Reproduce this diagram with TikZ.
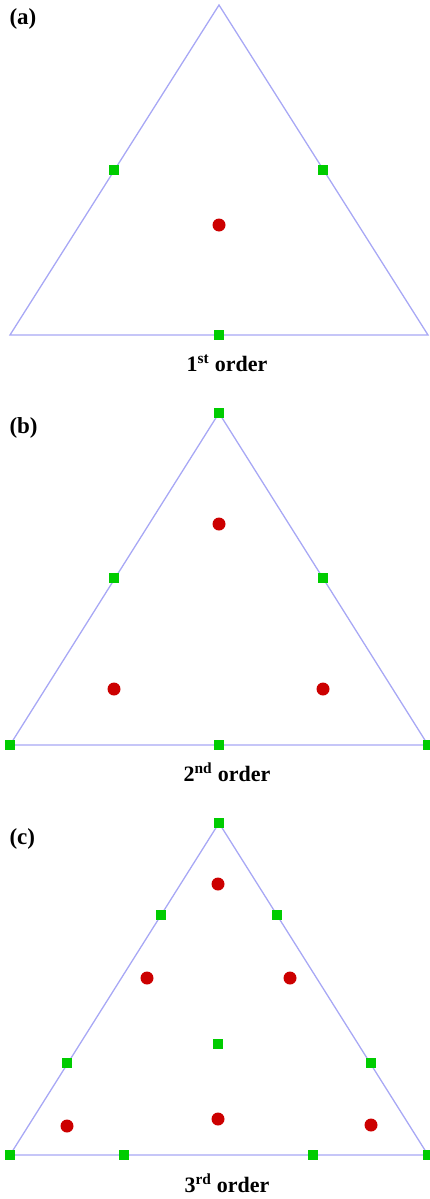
\documentclass[tikz,border=0pt]{standalone}
\usepackage{fontspec}
\setmainfont{Liberation Serif}

\definecolor{edgeblue}{RGB}{168,168,245}
\definecolor{nodegreen}{RGB}{0,204,0}
\definecolor{pointred}{RGB}{204,0,0}

\tikzset{
  vsq/.style={rectangle, fill=nodegreen, minimum size=10pt, inner sep=0pt},
  qdot/.style={circle, fill=pointred, minimum size=13pt, inner sep=0pt},
  tedge/.style={edgeblue, line width=1.3pt},
  tag/.style={anchor=base west, font=\fontsize{23}{27}\selectfont\bfseries},
  caption/.style={anchor=base, font=\fontsize{22}{26}\selectfont\bfseries},
}

\begin{document}
\begin{tikzpicture}[x=1pt, y=-1pt]
  \useasboundingbox (0,0) rectangle (430,1199);

  % (a) first order
  \coordinate (aT) at (219,5);
  \coordinate (aL) at (10,335);
  \coordinate (aR) at (428,335);
  \draw[tedge] (aT) -- (aL) -- (aR) -- cycle;
  \node[vsq] (a1) at (114,170) {};
  \node[vsq] (a2) at (323,170) {};
  \node[vsq] (a3) at (219,335) {};
  \node[qdot] (ap) at (219,225) {};
  \node[tag] (atag) at (6,25) {(a)};
  \node[caption] (acap) at (227,371) {1\textsuperscript{st} order};

  % (b) second order
  \coordinate (bT) at (219,413);
  \coordinate (bL) at (10,745);
  \coordinate (bR) at (428,745);
  \draw[tedge] (bT) -- (bL) -- (bR) -- cycle;
  \node[vsq] (b1) at (bT) {};
  \node[vsq] (b2) at (114,578) {};
  \node[vsq] (b3) at (323,578) {};
  \node[vsq] (b4) at (bL) {};
  \node[vsq] (b5) at (219,745) {};
  \node[vsq] (b6) at (bR) {};
  \node[qdot] (bp1) at (219,524) {};
  \node[qdot] (bp2) at (114,689) {};
  \node[qdot] (bp3) at (323,689) {};
  \node[tag] (btag) at (6,433) {(b)};
  \node[caption] (bcap) at (227,781) {2\textsuperscript{nd} order};

  % (c) third order
  \coordinate (cT) at (219,823);
  \coordinate (cL) at (10,1155);
  \coordinate (cR) at (428,1155);
  \draw[tedge] (cT) -- (cL) -- (cR) -- cycle;
  \node[vsq] (c1) at (cT) {};
  \node[vsq] (c2) at (161,915) {};
  \node[vsq] (c3) at (277,915) {};
  \node[vsq] (c4) at (67,1063) {};
  \node[vsq] (c5) at (371,1063) {};
  \node[vsq] (c6) at (cL) {};
  \node[vsq] (c7) at (124,1155) {};
  \node[vsq] (c8) at (313,1155) {};
  \node[vsq] (c9) at (cR) {};
  \node[vsq] (c10) at (218,1044) {};
  \node[qdot] (cp1) at (218,884) {};
  \node[qdot] (cp2) at (147,978) {};
  \node[qdot] (cp3) at (290,978) {};
  \node[qdot] (cp4) at (218,1119) {};
  \node[qdot] (cp5) at (67,1126) {};
  \node[qdot] (cp6) at (371,1125) {};
  \node[tag] (ctag) at (6,844) {(c)};
  \node[caption] (ccap) at (227,1192) {3\textsuperscript{rd} order};
\end{tikzpicture}
\end{document}
